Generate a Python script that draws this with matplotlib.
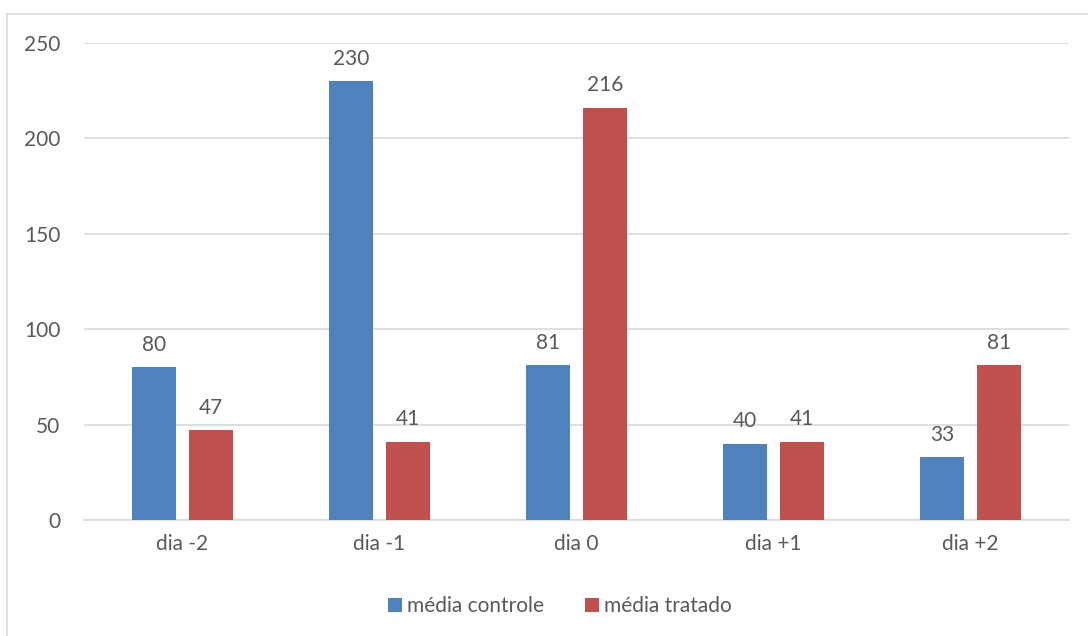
import matplotlib
matplotlib.use("Agg")
import matplotlib.pyplot as plt
import numpy as np
from matplotlib.lines import Line2D
from matplotlib.patches import Patch

categories = ["dia -2", "dia -1", "dia 0", "dia +1", "dia +2"]
controle = [80, 230, 81, 40, 33]
tratado = [47, 41, 216, 41, 81]
series_names = ["média controle", "média tratado"]
colors = ["#4F81BD", "#C0504D"]

plt.rcParams['font.family'] = ['Lato', 'DejaVu Sans']
txt = "#595959"
grid = "#D9D9D9"
fs = 15

fig = plt.figure(figsize=(10.88, 6.36), dpi=100)
ax = fig.add_axes([84/1088, 1-520/636, (1069-84)/1088, (520-43)/636])

x = np.arange(len(categories))
w = 0.22
off = 0.144
b1 = ax.bar(x - off, controle, w, color=colors[0], zorder=3)
b2 = ax.bar(x + off, tratado, w, color=colors[1], zorder=3)

for bars, vals in ((b1, controle), (b2, tratado)):
    for r, v in zip(bars, vals):
        ax.annotate(str(v), (r.get_x() + r.get_width()/2, v), xytext=(0, 9),
                    textcoords="offset points", ha="center", va="bottom",
                    fontsize=fs, color=txt)

ax.set_xlim(-0.5, len(categories) - 0.5)
ax.set_ylim(0, 250)
ax.set_yticks(np.arange(0, 251, 50))
ax.set_xticks(x)
ax.set_xticklabels(categories)
ax.yaxis.grid(True, color=grid, linewidth=1.2, zorder=0)
for s in ["top", "right", "left"]:
    ax.spines[s].set_visible(False)
ax.spines["bottom"].set_color(grid)
ax.spines["bottom"].set_linewidth(1.2)
ax.tick_params(axis="both", length=0, labelsize=fs, colors=txt)
ax.tick_params(axis="y", pad=17)
ax.tick_params(axis="x", pad=10)

handles = [Patch(facecolor=c, edgecolor="none") for c in colors]
fig.legend(handles, series_names, loc="center", bbox_to_anchor=(560/1088, 1-606/636),
           ncol=2, frameon=False, fontsize=fs, labelcolor=txt,
           handlelength=0.65, handleheight=0.65, handletextpad=0.25, columnspacing=2.0)

# chart border (top and left visible)
fig.add_artist(Line2D([7/1088, 1.0], [1-14/636, 1-14/636], color=grid, lw=1.2, transform=fig.transFigure))
fig.add_artist(Line2D([7/1088, 7/1088], [0, 1-14/636], color=grid, lw=1.2, transform=fig.transFigure))

fig.savefig("out.png", dpi=100, facecolor="white")
